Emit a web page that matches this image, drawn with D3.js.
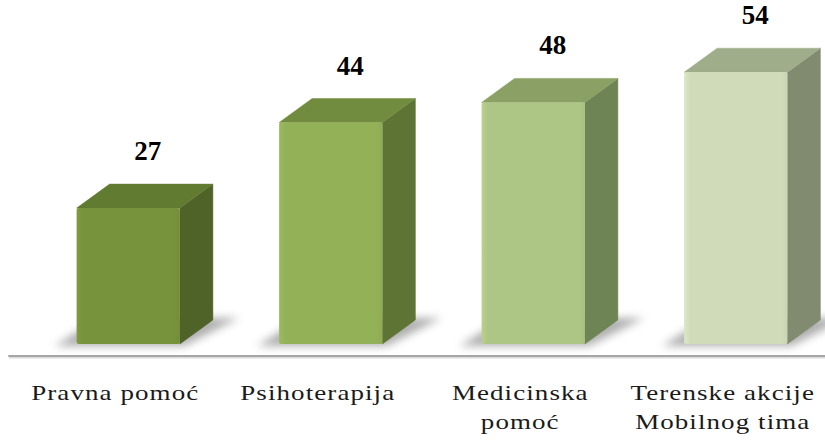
<!DOCTYPE html>
<html>
<head>
<meta charset="utf-8">
<script src="https://cdn.jsdelivr.net/npm/d3@7"></script>
<style>
	html, body { margin: 0; padding: 0; background: #fff; }
	svg { display: block; }
</style>
</head>
<body>
<script>
const categories = ["Pravna pomoć", "Psihoterapija", "Medicinska\npomoć", "Terenske akcije\nMobilnog tima"];
const values = [27, 44, 48, 54];
const yDomain = [0, 60];

const WIDTH = 825;
const HEIGHT = 443;
const BASE_Y = 344;
const TOP_Y = 42;
const AXIS_Y = 356;
const DEPTH = { x: 33, y: 24 };
const LABEL_GAP = 24;
const LABEL_STRETCH = 1.35;

// front / top / side colours for each bar
const palette = [
	{ front: "#77933c", top: "#617b30", side: "#4f6228" },
	{ front: "#93b157", top: "#718c3e", side: "#5e7434" },
	{ front: "#aec685", top: "#8aa064", side: "#6f8454" },
	{ front: "#d0dcb9", top: "#a0ad8a", side: "#818b70" }
];

const svg = d3.select("body").append("svg")
	.attr("width", WIDTH)
	.attr("height", HEIGHT);

const defs = svg.append("defs");
defs.append("filter")
	.attr("id", "blur")
	.attr("x", "-20%").attr("y", "-50%")
	.attr("width", "140%").attr("height", "200%")
	.append("feGaussianBlur")
	.attr("stdDeviation", 4);

palette.forEach((c, i) => {
	const g = defs.append("linearGradient")
		.attr("id", "front" + i)
		.attr("x1", 0).attr("x2", 1).attr("y1", 0).attr("y2", 0);
	g.append("stop").attr("offset", "0%").attr("stop-color", d3.color(c.front).brighter(0.15));
	g.append("stop").attr("offset", "6%").attr("stop-color", c.front);
	g.append("stop").attr("offset", "94%").attr("stop-color", c.front);
	g.append("stop").attr("offset", "100%").attr("stop-color", d3.color(c.front).darker(0.1));
});

const x = d3.scaleBand()
	.domain(categories)
	.range([27, 837])
	.paddingInner(0.49)
	.paddingOuter(0.245);

const y = d3.scaleLinear()
	.domain(yDomain)
	.range([BASE_Y, TOP_Y]);

const data = categories.map((c, i) => ({ category: c, value: values[i], index: i }));

// axis line
svg.append("line")
	.attr("x1", 9)
	.attr("x2", WIDTH)
	.attr("y1", AXIS_Y + 1.5)
	.attr("y2", AXIS_Y + 1.5)
	.attr("stroke", "#dcdcdc")
	.attr("stroke-width", 2);
svg.append("line")
	.attr("x1", 9)
	.attr("x2", WIDTH)
	.attr("y1", AXIS_Y)
	.attr("y2", AXIS_Y)
	.attr("stroke", "#a6a6a6")
	.attr("stroke-width", 2)
	.attr("stroke-linecap", "round");

// floor shadows
svg.append("g")
	.selectAll("path")
	.data(data)
	.join("path")
	.attr("d", d => {
		const x0 = x(d.category);
		const x1 = x0 + x.bandwidth();
		return `M${x0 - 22},${BASE_Y + 2} L${x1 + 4},${BASE_Y + 2} L${x1 + DEPTH.x + 26},${BASE_Y - DEPTH.y - 2} L${x0 + DEPTH.x - 10},${BASE_Y - DEPTH.y - 2} Z`;
	})
	.attr("fill", "#8c8c8c")
	.attr("opacity", 0.7)
	.attr("filter", "url(#blur)");

const bars = svg.append("g")
	.selectAll("g")
	.data(data)
	.join("g");

// side face
bars.append("path")
	.attr("d", d => {
		const x1 = x(d.category) + x.bandwidth();
		const yt = y(d.value);
		return `M${x1},${yt} L${x1 + DEPTH.x},${yt - DEPTH.y} L${x1 + DEPTH.x},${BASE_Y - DEPTH.y} L${x1},${BASE_Y} Z`;
	})
	.attr("fill", d => palette[d.index].side)
	.attr("stroke", d => palette[d.index].side)
	.attr("stroke-width", 0.5)
	.attr("stroke-linejoin", "round");

// top face
bars.append("path")
	.attr("d", d => {
		const x0 = x(d.category);
		const x1 = x0 + x.bandwidth();
		const yt = y(d.value);
		return `M${x0},${yt} L${x0 + DEPTH.x},${yt - DEPTH.y} L${x1 + DEPTH.x},${yt - DEPTH.y} L${x1},${yt} Z`;
	})
	.attr("fill", d => palette[d.index].top)
	.attr("stroke", d => palette[d.index].top)
	.attr("stroke-width", 0.5)
	.attr("stroke-linejoin", "round");

// front face
bars.append("rect")
	.attr("x", d => x(d.category))
	.attr("y", d => y(d.value))
	.attr("width", x.bandwidth())
	.attr("height", d => BASE_Y - y(d.value))
	.attr("rx", 2)
	.attr("fill", d => `url(#front${d.index})`);

// value labels
svg.append("g")
	.selectAll("text")
	.data(data)
	.join("text")
	.attr("x", d => x(d.category) + x.bandwidth() / 2 + DEPTH.x / 2 + 3)
	.attr("y", d => y(d.value) - DEPTH.y - LABEL_GAP)
	.attr("text-anchor", "middle")
	.attr("font-family", "Liberation Serif")
	.attr("font-weight", "bold")
	.attr("font-size", 27)
	.attr("fill", "#000")
	.text(d => d.value);

// category labels (stretched horizontally, the original face is a wide serif)
const xAxis = d3.axisBottom(x).tickSize(0).tickPadding(0);
const axisGroup = svg.append("g")
	.attr("transform", `translate(0,${AXIS_Y})`)
	.call(xAxis);
axisGroup.select(".domain").remove();
axisGroup.selectAll(".tick text").remove();
axisGroup.selectAll(".tick")
	.append("text")
	.attr("transform", `scale(${LABEL_STRETCH},1)`)
	.attr("text-anchor", "middle")
	.attr("font-family", "Liberation Serif")
	.attr("font-size", 20)
	.attr("letter-spacing", 0.8)
	.attr("fill", "#1a1a1a")
	.each(function (d) {
		const lines = d.split("\n");
		d3.select(this).selectAll("tspan")
			.data(lines)
			.join("tspan")
			.attr("x", -13 / LABEL_STRETCH)
			.attr("y", (l, i) => 44 + i * 29)
			.text(l => l);
	});
</script>
</body>
</html>
